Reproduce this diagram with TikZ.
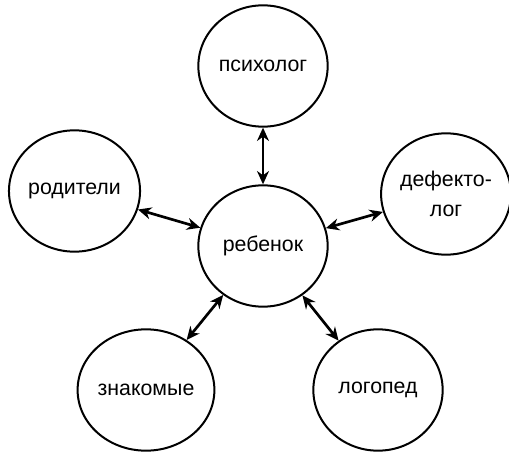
\documentclass[tikz,border=0pt]{standalone}
\usepackage{fontspec}
\setmainfont{Liberation Sans}
\usetikzlibrary{shapes.geometric,arrows.meta}
\begin{document}
\begin{tikzpicture}[x=0.75pt,y=-0.75pt,
  bub/.style={draw,ellipse,line width=1.5pt,minimum width=97pt,minimum height=91pt,inner sep=0pt,
    font=\fontsize{16}{22}\selectfont,align=center},
  link/.style={line width=2pt,{Stealth[length=10pt,width=9pt]}-{Stealth[length=10pt,width=9pt]}}]
\useasboundingbox (0,0) rectangle (509,452);
\node[bub] (psy) at (263,66) {психолог};
\node[bub] (kid) at (263,246) {ребенок};
\node[bub] (par) at (74.5,191) {родители};
\node[bub] (def) at (446,194) {дефекто-\\лог};
\node[bub] (zna) at (146,390) {знакомые};
\node[bub] (log) at (378,390) {логопед};
\draw[link] (psy) -- (kid);
\draw[link] (par) -- (kid);
\draw[link] (def) -- (kid);
\draw[link] (zna) -- (kid);
\draw[link] (log) -- (kid);
\end{tikzpicture}
\end{document}
